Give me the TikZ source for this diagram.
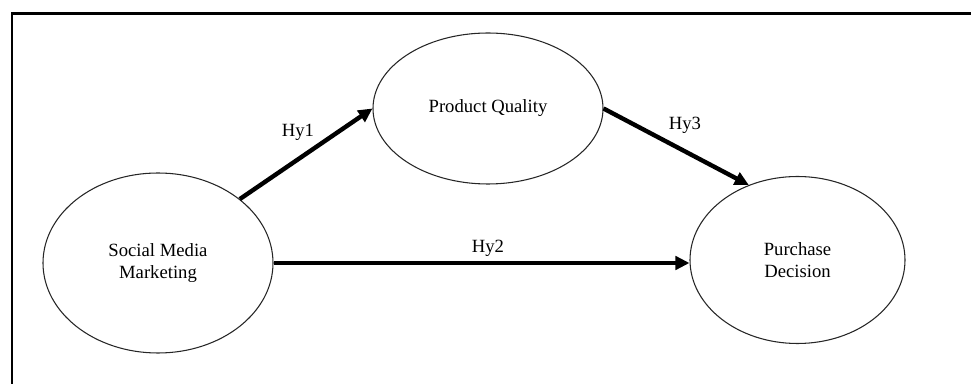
\documentclass[tikz,border=0pt]{standalone}
\usepackage{fontspec}
\setmainfont{Liberation Serif}
\usetikzlibrary{shapes.geometric,arrows.meta}
\tikzset{
  construct/.style={ellipse, draw=black!85, line width=0.8pt, inner sep=0pt, align=center,
    font=\fontsize{14}{16.5}\selectfont},
  hyarrow/.style={line width=3.3pt, -{Triangle[length=10.5pt,width=10pt]}},
  hylabel/.style={font=\fontsize{14}{16.5}\selectfont, inner sep=0pt}
}
\begin{document}
\begin{tikzpicture}[x=0.75pt,y=-0.75pt]
\useasboundingbox (0,0) rectangle (971,384);
\draw[line width=2pt] (12,390) -- (12,13.5) -- (980,13.5);
\node[construct, minimum width=172.5pt, minimum height=135pt] (smm) at (158,263) {Social Media\\Marketing};
\node[construct, minimum width=172.5pt, minimum height=113.25pt] (pq) at (488,108.5) {Product Quality};
\node[construct, minimum width=161.25pt, minimum height=125.25pt] (pd) at (797.5,260) {Purchase\\Decision};
\draw[hyarrow] (smm.38) -- (pq.west);
\draw[hyarrow] (smm.east) -- (pd.west |- smm.east);
\draw[hyarrow] (pq.east) -- (pd.123);
\node[hylabel] (h1) at (298,132) {Hy1};
\node[hylabel] (h2) at (488,248) {Hy2};
\node[hylabel] (h3) at (685,125) {Hy3};
\end{tikzpicture}
\end{document}
